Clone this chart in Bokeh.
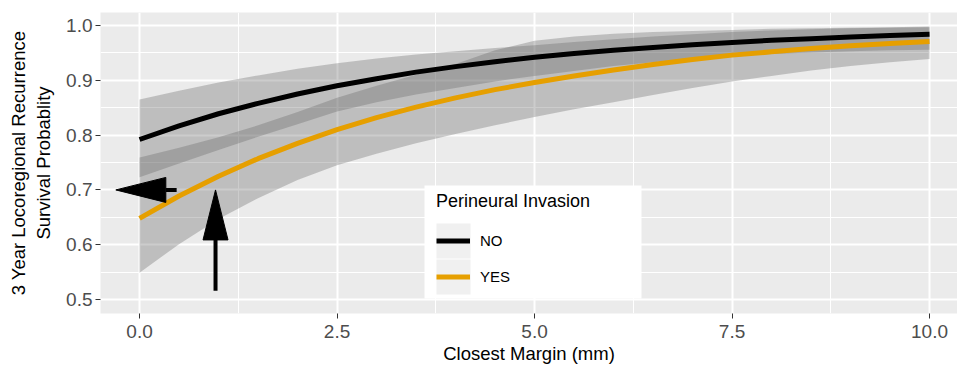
from bokeh.plotting import figure
from bokeh.models import Range1d, FixedTicker, Legend, LegendItem
from bokeh.embed import file_html
from bokeh.resources import INLINE

# ---------------- data ----------------
margin_mm = [0.0, 0.5, 1.0, 1.5, 2.0, 2.5, 3.0, 3.5, 4.0, 4.5, 5.0,
             5.5, 6.0, 6.5, 7.0, 7.5, 8.0, 8.5, 9.0, 9.5, 10.0]
surv_no = [0.792, 0.817, 0.839, 0.858, 0.875, 0.890, 0.903, 0.915, 0.925, 0.934, 0.942,
           0.949, 0.955, 0.960, 0.965, 0.969, 0.973, 0.976, 0.979, 0.982, 0.984]
surv_yes = [0.648, 0.689, 0.725, 0.757, 0.785, 0.810, 0.832, 0.851, 0.868, 0.883, 0.896,
            0.908, 0.919, 0.929, 0.938, 0.946, 0.952, 0.958, 0.963, 0.967, 0.971]

no_lower = [0.723, 0.748, 0.773, 0.797, 0.820, 0.843, 0.860, 0.874, 0.886, 0.898, 0.908,
            0.917, 0.926, 0.933, 0.939, 0.944, 0.948, 0.951, 0.953, 0.955, 0.956]
no_upper = [0.865, 0.881, 0.896, 0.909, 0.921, 0.931, 0.940, 0.947, 0.953, 0.959, 0.964,
            0.970, 0.975, 0.980, 0.984, 0.988, 0.991, 0.993, 0.995, 0.996, 0.997]
yes_lower = [0.549, 0.601, 0.647, 0.685, 0.718, 0.745, 0.766, 0.785, 0.802, 0.818, 0.833,
             0.847, 0.860, 0.873, 0.886, 0.898, 0.908, 0.918, 0.926, 0.933, 0.939]
yes_upper = [0.759, 0.777, 0.796, 0.818, 0.842, 0.868, 0.890, 0.910, 0.930, 0.955, 0.972,
             0.980, 0.985, 0.988, 0.990, 0.992, 0.994, 0.995, 0.996, 0.997, 0.998]

groups = ["NO", "YES"]
legend_title = "Perineural Invasion"

x_ticks = [0.0, 2.5, 5.0, 7.5, 10.0]
x_minor = [1.25, 3.75, 6.25, 8.75]
x_tick_labels = ["0.0", "2.5", "5.0", "7.5", "10.0"]
y_ticks = [0.5, 0.6, 0.7, 0.8, 0.9, 1.0]
y_minor = [0.55, 0.65, 0.75, 0.85, 0.95]
y_tick_labels = ["0.5", "0.6", "0.7", "0.8", "0.9", "1.0"]

# annotation arrows (data coordinates): (x_from, y_from, x_to, y_to)
arrow_left = (0.47, 0.700, -0.30, 0.700)
arrow_up = (0.962, 0.516, 0.962, 0.700)

# ---------------- layout ----------------
W, H = 957, 367
FRAME_L, FRAME_T = 100, 12
FRAME_W, FRAME_H = 857, 301
PX_X, PX_Y = 79.0, 548.0          # pixels per data unit
X0, Y0 = -0.494, 0.4745

FONT = "Liberation Sans"
BAND = "#646464"
ORANGE = "#E69F00"

p = figure(width=W, height=H, output_backend="svg", toolbar_location=None,
           x_range=Range1d(X0, X0 + FRAME_W / PX_X), y_range=Range1d(Y0, Y0 + FRAME_H / PX_Y),
           min_border_left=FRAME_L, min_border_right=0, min_border_top=FRAME_T,
           min_border_bottom=H - FRAME_T - FRAME_H)
p.background_fill_color = "#EBEBEB"
p.border_fill_color = "white"
p.outline_line_color = None


def sx(px):  # canvas px -> data x
    return (px - FRAME_L) / PX_X + X0


def sy(py):  # canvas px -> data y
    return Y0 + (FRAME_T + FRAME_H - py) / PX_Y


# ribbons
p.varea(x=margin_mm, y1=yes_lower, y2=yes_upper, fill_color=BAND, fill_alpha=0.33)
p.varea(x=margin_mm, y1=no_lower, y2=no_upper, fill_color=BAND, fill_alpha=0.33)

# curves
r_no = p.line(margin_mm, surv_no, line_color="black", line_width=5, line_join="round")
r_yes = p.line(margin_mm, surv_yes, line_color=ORANGE, line_width=5, line_join="round")

# arrows
HEAD_LEN, HEAD_HALF = 50, 12.5
xf, yf, xt, yt = arrow_left
hl = HEAD_LEN / PX_X
p.segment(x0=[xf], y0=[yf], x1=[xt + hl], y1=[yt], line_color="black", line_width=4)
p.patch([xt, xt + hl, xt + hl], [yt, yt + HEAD_HALF / PX_Y, yt - HEAD_HALF / PX_Y],
        fill_color="black", line_color="black")
xf, yf, xt, yt = arrow_up
hl = HEAD_LEN / PX_Y
p.segment(x0=[xf], y0=[yf], x1=[xt], y1=[yt - hl], line_color="black", line_width=4)
p.patch([xt, xt - HEAD_HALF / PX_X, xt + HEAD_HALF / PX_X], [yt, yt - hl, yt - hl],
        fill_color="black", line_color="black")

# legend background + key boxes
p.quad(left=[sx(424)], right=[sx(641)], top=[sy(185)], bottom=[sy(298)],
       fill_color="white", line_color=None)
p.quad(left=[sx(436), sx(436)], right=[sx(470), sx(470)],
       top=[sy(223), sy(259)], bottom=[sy(258), sy(294)],
       fill_color="#F0F0F0", line_color=None)

legend = Legend(items=[LegendItem(label=groups[0], renderers=[r_no]),
                       LegendItem(label=groups[1], renderers=[r_yes])],
                location=(326, 9), title=legend_title, orientation="vertical")
legend.title_text_font = FONT
legend.title_text_font_size = "18px"
legend.title_text_font_style = "normal"
legend.title_text_color = "black"
legend.title_standoff = 11
legend.label_text_font = FONT
legend.label_text_font_size = "15px"
legend.label_text_color = "black"
legend.glyph_width = 34
legend.glyph_height = 35
legend.label_standoff = 10
legend.label_height = 20
legend.spacing = 1
legend.padding = 10
legend.margin = 0
legend.background_fill_alpha = 0
legend.border_line_alpha = 0
p.add_layout(legend)

# axes and grids
p.xaxis.ticker = FixedTicker(ticks=x_ticks, minor_ticks=x_minor)
p.yaxis.ticker = FixedTicker(ticks=y_ticks, minor_ticks=y_minor)
p.xgrid.ticker = FixedTicker(ticks=x_ticks, minor_ticks=x_minor)
p.ygrid.ticker = FixedTicker(ticks=y_ticks, minor_ticks=y_minor)
p.xaxis.major_label_overrides = dict(zip(x_ticks, x_tick_labels))
p.yaxis.major_label_overrides = dict(zip(y_ticks, y_tick_labels))

for g in (p.xgrid, p.ygrid):
    g.grid_line_color = "white"
    g.grid_line_width = 2
    g.minor_grid_line_color = "white"
    g.minor_grid_line_width = 1

for ax in (p.xaxis, p.yaxis):
    ax.axis_line_color = None
    ax.major_tick_line_color = "#333333"
    ax.major_tick_in = 0
    ax.major_tick_out = 5
    ax.minor_tick_line_color = None
    ax.major_label_text_font = FONT
    ax.major_label_text_font_size = "19px"
    ax.major_label_text_color = "#4D4D4D"
    ax.axis_label_text_font = FONT
    ax.axis_label_text_font_size = "18.5px"
    ax.axis_label_text_font_style = "normal"
    ax.axis_label_text_color = "black"

p.xaxis.axis_label = "Closest Margin (mm)"
p.xaxis.major_label_standoff = 6
p.xaxis.axis_label_standoff = 2
p.yaxis.axis_label = "3 Year Locoregional Recurrence\nSurvival Probablity"
p.yaxis.major_label_standoff = 3
p.yaxis.axis_label_standoff = 9

open("out.html", "w").write(file_html(p, INLINE))
